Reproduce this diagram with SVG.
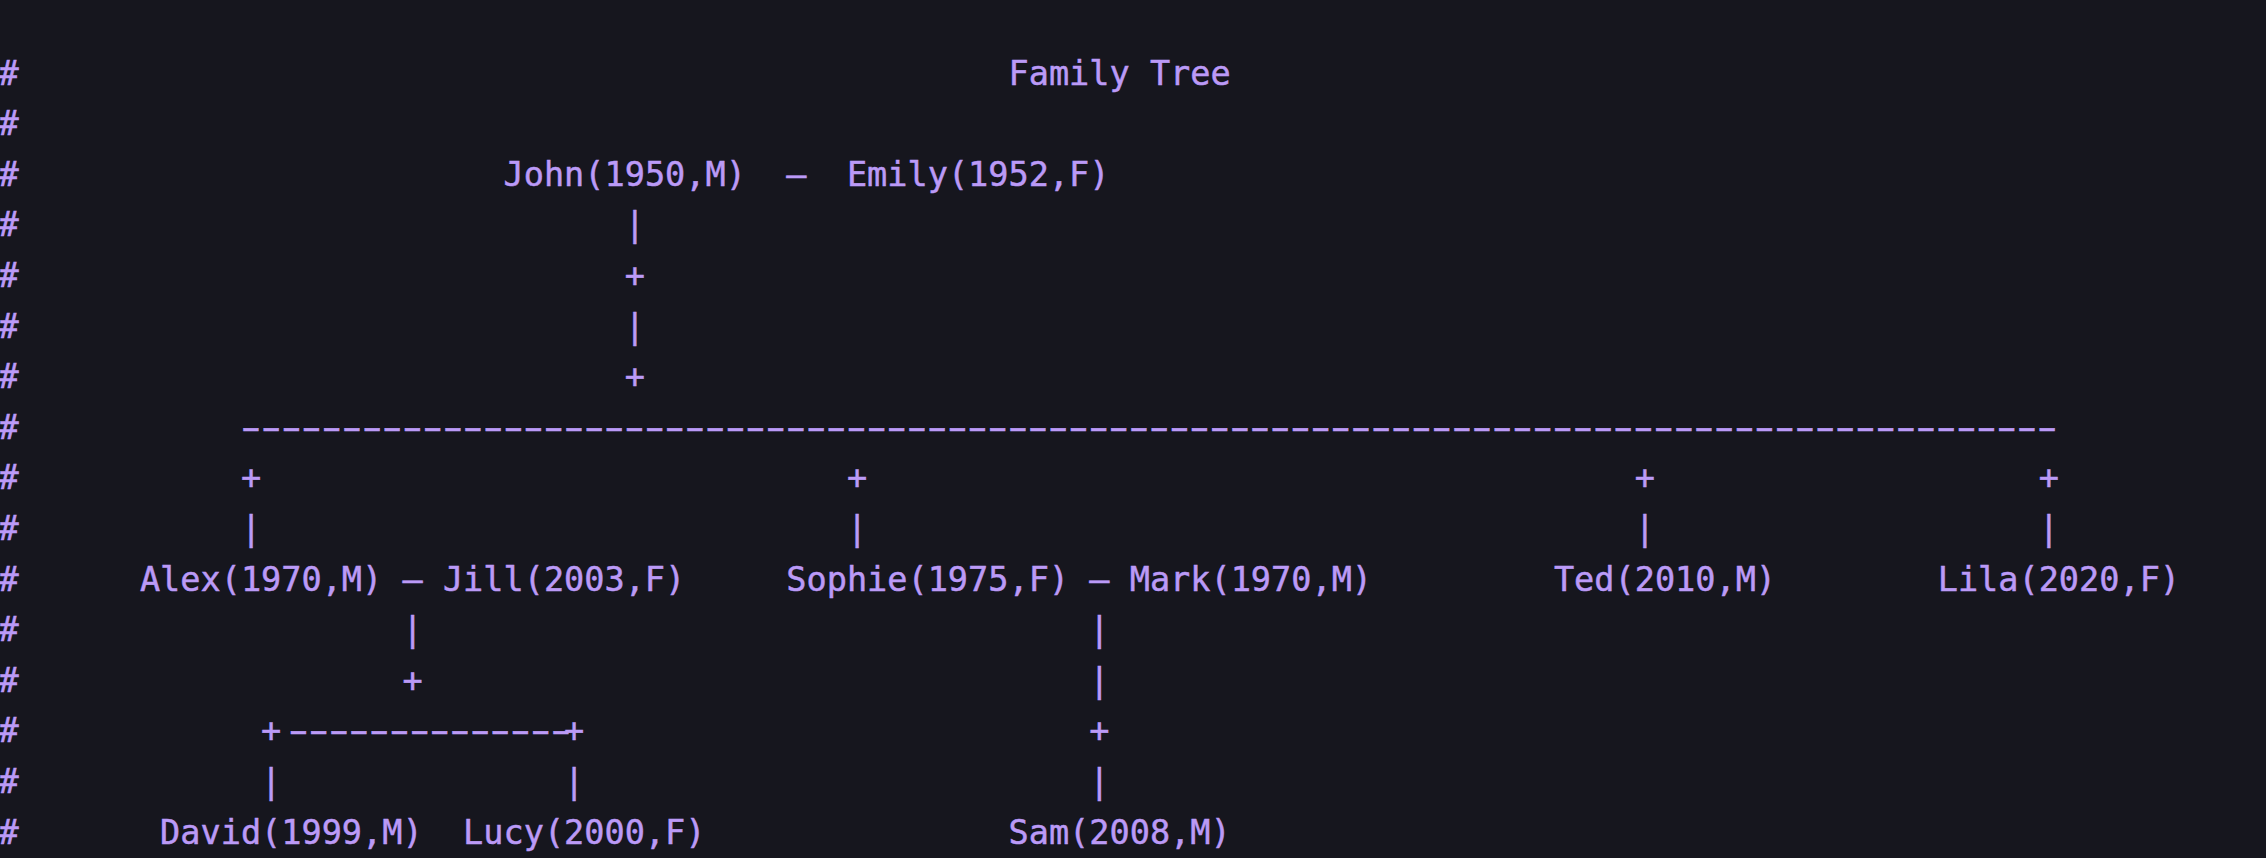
<svg xmlns="http://www.w3.org/2000/svg" width="2266" height="858" viewBox="0 0 2266 858">
  <style>
    text { font-family: "DejaVu Sans Mono", "Liberation Mono", monospace; font-size: 33.55px; fill: #bb9af7; stroke: #bb9af7; stroke-width: 0.5px; white-space: pre; }
    text.dash { letter-spacing: -8.3174px; }
  </style>
  <rect x="0" y="0" width="2266" height="858" fill="#16161e"/>
  <g id="gutter">
    <text x="-1.5" y="84.5">#</text>
    <text x="-1.5" y="135.1">#</text>
    <text x="-1.5" y="185.7">#</text>
    <text x="-1.5" y="236.3">#</text>
    <text x="-1.5" y="286.9">#</text>
    <text x="-1.5" y="337.5">#</text>
    <text x="-1.5" y="388.1">#</text>
    <text x="-1.5" y="438.7">#</text>
    <text x="-1.5" y="489.3">#</text>
    <text x="-1.5" y="539.9">#</text>
    <text x="-1.5" y="590.5">#</text>
    <text x="-1.5" y="641.1">#</text>
    <text x="-1.5" y="691.7">#</text>
    <text x="-1.5" y="742.3">#</text>
    <text x="-1.5" y="792.9">#</text>
    <text x="-1.5" y="843.5">#</text>
  </g>
  <g id="title"><text x="1008.5" y="84.5">Family Tree</text></g>
  <g id="john"><text x="503.5" y="185.7">John(1950,M)</text></g>
  <g id="emily"><text x="846.9" y="185.7">Emily(1952,F)</text></g>
  <g id="alex"><text x="139.9" y="590.5">Alex(1970,M)</text></g>
  <g id="jill"><text x="442.9" y="590.5">Jill(2003,F)</text></g>
  <g id="sophie"><text x="786.3" y="590.5">Sophie(1975,F)</text></g>
  <g id="mark"><text x="1129.7" y="590.5">Mark(1970,M)</text></g>
  <g id="ted"><text x="1553.9" y="590.5">Ted(2010,M)</text></g>
  <g id="lila"><text x="1937.7" y="590.5">Lila(2020,F)</text></g>
  <g id="david"><text x="160.1" y="843.5">David(1999,M)</text></g>
  <g id="lucy"><text x="463.1" y="843.5">Lucy(2000,F)</text></g>
  <g id="sam"><text x="1008.5" y="843.5">Sam(2008,M)</text></g>
  <g id="connectors">
    <text x="786.3" y="185.7">–</text>
    <text x="624.7" y="236.3">|</text>
    <text x="624.7" y="286.9">+</text>
    <text x="624.7" y="337.5">|</text>
    <text x="624.7" y="388.1">+</text>
    <text class="dash" transform="scale(1.7 1)" x="137.55" y="438.7">------------------------------------------------------------------------------------------</text>
    <text x="240.9" y="489.3">+</text>
    <text x="846.9" y="489.3">+</text>
    <text x="1634.7" y="489.3">+</text>
    <text x="2038.7" y="489.3">+</text>
    <text x="240.9" y="539.9">|</text>
    <text x="846.9" y="539.9">|</text>
    <text x="1634.7" y="539.9">|</text>
    <text x="2038.7" y="539.9">|</text>
    <text x="402.5" y="590.5">–</text>
    <text x="1089.3" y="590.5">–</text>
    <text x="402.5" y="641.1">|</text>
    <text x="1089.3" y="641.1">|</text>
    <text x="402.5" y="691.7">+</text>
    <text x="1089.3" y="691.7">|</text>
    <text x="261.1" y="742.3">+</text>
    <text class="dash" transform="scale(1.7 1)" x="165.47" y="742.3">--------------</text>
    <text x="564.1" y="742.3">+</text>
    <text x="1089.3" y="742.3">+</text>
    <text x="261.1" y="792.9">|</text>
    <text x="564.1" y="792.9">|</text>
    <text x="1089.3" y="792.9">|</text>
  </g>
</svg>
